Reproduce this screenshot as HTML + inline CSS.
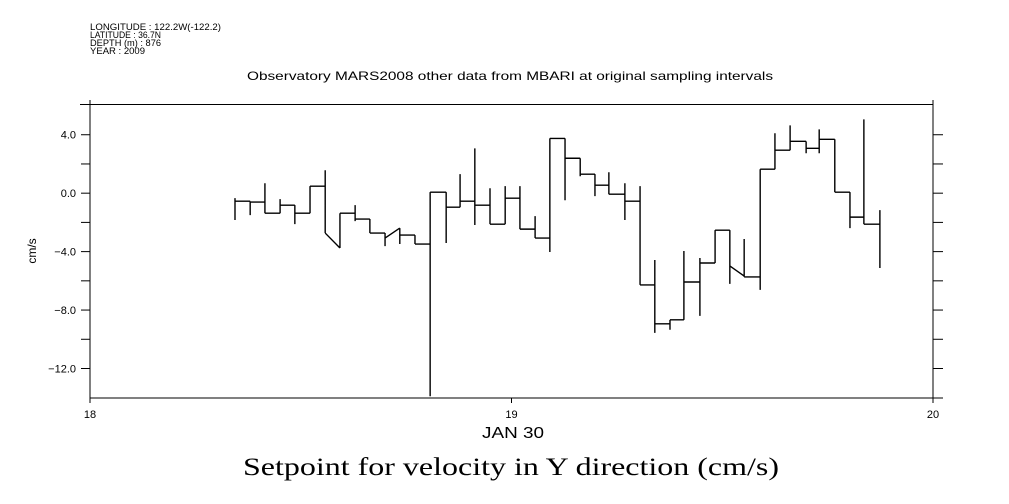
<!DOCTYPE html>
<html><head><meta charset="utf-8"><style>
html,body{margin:0;padding:0;background:#fff;}
svg{display:block;font-family:"Liberation Sans",sans-serif;}
</style></head><body>
<svg id="chart" width="1009" height="504" viewBox="0 0 1009 504" xmlns="http://www.w3.org/2000/svg">
<g font-size="9" fill="#000">
<text x="90" y="30" textLength="131" lengthAdjust="spacingAndGlyphs">LONGITUDE : 122.2W(-122.2)</text>
<text x="90" y="38" textLength="71" lengthAdjust="spacingAndGlyphs">LATITUDE : 36.7N</text>
<text x="90" y="46" textLength="71" lengthAdjust="spacingAndGlyphs">DEPTH (m) : 876</text>
<text x="90" y="54" textLength="55" lengthAdjust="spacingAndGlyphs">YEAR : 2009</text>
</g>
<text x="247" y="80" font-size="12" textLength="526" lengthAdjust="spacingAndGlyphs">Observatory MARS2008 other data from MBARI at original sampling intervals</text>
<g id="axes" stroke="#000" stroke-width="1" fill="none"></g>
<g id="ticklabels" font-size="11" fill="#000"></g>
<text transform="translate(36,251) rotate(-90)" font-size="12" text-anchor="middle">cm/s</text>
<text x="482" y="438" font-size="16" textLength="62" lengthAdjust="spacingAndGlyphs">JAN 30</text>
<text x="243" y="475" font-size="25" textLength="536" lengthAdjust="spacingAndGlyphs" font-family="'Liberation Serif',serif">Setpoint for velocity in Y direction (cm/s)</text>
<g id="series" stroke="#000" stroke-width="1.4" fill="none"></g>
</svg>
<script>
const stepTimes = [18.344,18.380,18.415,18.451,18.486,18.522,18.558,18.593,18.629,18.664,18.700,18.735,18.771,18.807,18.845,18.878,18.913,18.949,18.985,19.020,19.056,19.091,19.127,19.163,19.198,19.231,19.269,19.305,19.340,19.376,19.409,19.447,19.483,19.518,19.552,19.590,19.625,19.661,19.699,19.730,19.767,19.803,19.836,19.874];
const rangeLow  = [-1.84,-1.50,-1.37,-1.37,-2.12,-1.37,-2.73,-3.75,-1.91,-2.73,-3.62,-3.48,-3.48,-13.9,-3.41,-0.96,-2.18,-2.12,-2.12,-2.46,-3.07,-4.03,-0.48,1.16,-0.20,-0.07,-1.84,-6.28,-9.56,-9.35,-8.67,-8.40,-4.78,-6.21,-5.73,-6.62,1.64,2.94,2.73,2.73,0.07,-2.39,-2.12,-5.12];
const rangeHigh = [-0.34,-0.55,0.68,-0.41,-0.82,0.48,1.57,-1.37,-0.82,-1.77,-2.73,-2.39,-2.87,0.07,0.07,1.30,3.07,0.34,0.48,0.48,-1.57,3.75,3.75,2.39,1.30,1.43,0.68,0.48,-4.57,-8.67,-3.96,-4.44,-2.53,-2.53,-3.14,1.64,4.10,4.64,3.55,4.37,3.69,0.07,5.05,-1.16];
const levelStart= [-0.55,-0.61,-1.37,-0.82,-1.37,0.48,-2.73,-1.37,-1.77,-2.73,-3.07,-2.87,-3.48,0.07,-0.96,-0.55,-0.82,-2.12,-0.34,-2.46,-3.07,3.75,2.39,1.30,0.55,-0.07,-0.55,-6.28,-8.94,-8.67,-6.08,-4.78,-2.53,-4.98,-5.73,1.64,2.94,3.55,3.07,3.69,0.07,-1.64,-2.12];
const levelEnd  = [-0.55,-0.61,-1.37,-0.82,-1.37,0.48,-3.75,-1.37,-1.77,-2.73,-2.39,-2.87,-3.48,0.07,-0.96,-0.55,-0.82,-2.12,-0.34,-2.46,-3.07,3.75,2.39,1.30,0.55,-0.07,-0.55,-6.28,-8.94,-8.67,-6.08,-4.78,-2.53,-5.67,-5.73,1.64,2.94,3.55,3.07,3.69,0.07,-1.64,-2.12];
const yTicks = [4,2,0,-2,-4,-6,-8,-10,-12];
const yTickLabels = ["4.0","","0.0","","-4.0","","-8.0","","-12.0"];
const xTicks = [18,19,20];
const xTickLabels = ["18","19","20"];

const X0=18, X1=20, PX0=90, PX1=933;
const Y0=-14.02, Y1=6.07, PY0=398, PY1=104.5;
function sx(d){return PX0+(d-X0)/(X1-X0)*(PX1-PX0);}
function sy(v){return PY0-(v-Y0)/(Y1-Y0)*(PY0-PY1);}
const NS="http://www.w3.org/2000/svg";
function line(g,x1,y1,x2,y2){const l=document.createElementNS(NS,'line');l.setAttribute('x1',x1);l.setAttribute('y1',y1);l.setAttribute('x2',x2);l.setAttribute('y2',y2);g.appendChild(l);return l;}
const axes=document.getElementById('axes');
let a;
a=line(axes,80,PY1,PX1,PY1);


a=line(axes,PX0,PY0,943,PY0);


a=line(axes,PX0,100,PX0,PY0+5);


a=line(axes,PX1,100,PX1,PY0+5);


const tl=document.getElementById('ticklabels');
yTicks.forEach((v,i)=>{
  const y=sy(v);
  let t=line(axes,81,y,PX0,y);
  
  
  t=line(axes,PX1,y,943,y);
  
  
  if(yTickLabels[i]){
    const tx=document.createElementNS(NS,'text');
    tx.setAttribute('x',76);tx.setAttribute('y',y+4);tx.setAttribute('text-anchor','end');
    tx.textContent=yTickLabels[i].replace('-','\u2212');
    
    
    tl.appendChild(tx);
  }
});
xTicks.forEach((d,i)=>{
  const x=sx(d);
  const t=line(axes,x,PY0,x,PY0+5);
  
  
  const tx=document.createElementNS(NS,'text');
  tx.setAttribute('x',x);tx.setAttribute('y',418);tx.setAttribute('text-anchor','middle');
  tx.textContent=xTickLabels[i];
  
  
  tl.appendChild(tx);
});
const sg=document.getElementById('series');
let dstr='';
for(let i=0;i<stepTimes.length;i++){
  const x=sx(stepTimes[i]);
  dstr+=`M${x},${sy(rangeLow[i])}L${x},${sy(rangeHigh[i])}`;
  if(i<stepTimes.length-1){
    dstr+=`M${x},${sy(levelStart[i])}L${sx(stepTimes[i+1])},${sy(levelEnd[i])}`;
  }
}
const p=document.createElementNS(NS,'path');
p.setAttribute('d',dstr);


sg.appendChild(p);
</script>
</body></html>
